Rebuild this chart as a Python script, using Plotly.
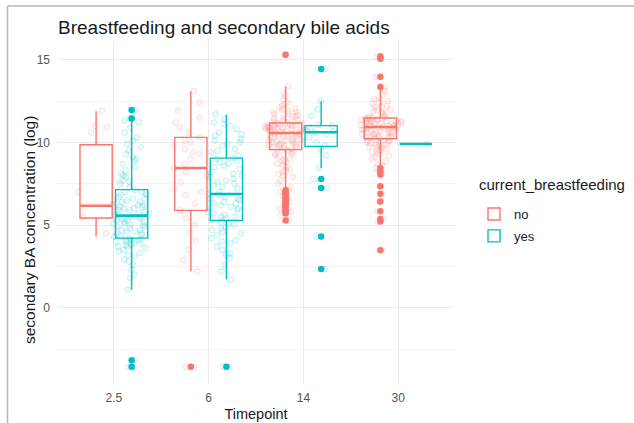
import plotly.graph_objects as go

# ---------------- data ----------------
timepoints = ["2.5", "6", "14", "30"]
groups = ["no", "yes"]

# box statistics (per timepoint)
no_q1 = [5.43, 5.89, 9.56, 10.22]
no_median = [6.17, 8.45, 10.57, 10.93]
no_q3 = [9.86, 10.30, 11.17, 11.47]
no_lower = [4.31, 2.20, 7.20, 8.60]
no_upper = [11.88, 13.09, 13.39, 13.20]

yes_q1 = [4.21, 5.28, 9.76, 9.90]
yes_median = [5.57, 6.88, 10.61, 9.90]
yes_q3 = [7.14, 9.05, 11.01, 9.90]
yes_lower = [1.09, 1.73, 8.45, 9.90]
yes_upper = [11.30, 11.68, 12.48, 9.90]

# outliers per timepoint
no_outliers = [
    [],
    [-3.57],
    [15.3, 7.1, 7.0, 6.9, 6.8, 6.7, 6.6, 6.5, 6.4, 6.3, 6.2, 6.1, 6.0, 5.9, 5.8, 5.7, 5.28],
    [15.2, 15.05, 13.96, 13.35, 8.45, 8.25, 8.05, 7.34, 6.90, 6.43, 5.83, 5.37, 5.22, 3.47],
]
yes_outliers = [
    [11.95, 11.45, -3.17, -3.57],
    [-3.57],
    [14.44, 7.79, 7.24, 4.31, 2.34],
    [],
]

# individual (jittered) observations per timepoint
no_points = [
    [11.9, 11.0, 10.9, 10.6, 7.0, 6.2, 5.5, 4.5],
    [2.2, 2.9, 3.5, 4.1, 4.6, 5.0, 5.4, 5.9, 6.3, 6.8, 7.2, 7.6, 8.0, 8.2, 8.45, 8.7,
     9.0, 9.3, 9.6, 9.8, 10.0, 10.3, 10.6, 10.9, 11.2, 11.5, 11.9, 12.4, 13.1, 7.0,
     9.4, 10.1, -3.6, -3.57],
    [5.28, 5.6, 5.8, 6.0, 6.2, 6.4, 6.6, 6.8, 7.0, 7.1, 7.3, 7.5, 7.7, 7.9, 8.0, 8.2,
     8.3, 8.5, 8.6, 8.7, 8.8, 8.9, 9.0, 9.1, 9.2, 9.3, 9.4, 9.5, 9.5, 6.5, 7.2, 8.1,
     8.4, 9.0, 9.3,
     9.6, 9.65, 9.7, 9.75, 9.8, 9.85, 9.9, 9.95, 10.0, 10.05, 10.1, 10.15, 10.2, 10.25,
     10.3, 10.35, 10.4, 10.45, 10.5, 10.55, 9.7, 9.9, 10.1, 10.3, 10.5, 9.6, 9.8, 10.0,
     10.2, 10.4,
     10.6, 10.62, 10.65, 10.7, 10.72, 10.75, 10.8, 10.82, 10.85, 10.9, 10.92, 10.95,
     11.0, 11.02, 11.05, 11.1, 11.12, 11.15, 10.6, 10.7, 10.8, 10.9, 11.0, 11.1, 10.65,
     10.75, 10.85, 10.95, 11.05, 11.15,
     11.2, 11.3, 11.4, 11.5, 11.6, 11.7, 11.8, 11.9, 12.0, 12.1, 12.2, 12.4, 12.6, 12.8,
     13.0, 13.4, 11.25, 11.45, 11.65, 11.85, 12.05, 12.3, 11.35, 11.55, 11.75, 15.3],
    [3.47, 5.22, 5.37, 5.83, 6.43, 6.90, 7.34, 8.05, 8.25, 8.45, 8.6, 8.7, 8.85, 9.0,
     9.1, 9.2, 9.3, 9.4, 9.5, 9.6, 9.7, 9.75, 9.8, 9.85, 9.9, 9.95, 10.0, 10.05, 10.1,
     10.15, 10.2, 9.45, 9.65, 9.9, 10.1,
     10.25, 10.3, 10.35, 10.4, 10.45, 10.5, 10.55, 10.6, 10.65, 10.7, 10.75, 10.8,
     10.85, 10.9, 10.3, 10.4, 10.5, 10.6, 10.7, 10.8, 10.9, 10.35, 10.55, 10.75, 10.85,
     10.95, 11.0, 11.05, 11.1, 11.15, 11.2, 11.25, 11.3, 11.35, 11.4, 11.45, 11.0, 11.1,
     11.2, 11.3, 11.4, 10.95, 11.05, 11.15, 11.25, 11.35, 11.45, 11.0, 11.2, 11.4,
     11.5, 11.6, 11.7, 11.8, 11.9, 12.0, 12.1, 12.2, 12.35, 12.5, 12.7, 12.9, 13.1,
     13.35, 11.55, 11.75, 11.95, 12.15, 12.4, 12.6, 13.96, 15.05, 15.2],
]
yes_points = [
    [1.1, 1.8, 2.3, 2.6, 2.9, 3.1, 3.3, 3.4, 3.5, 3.6, 3.7, 3.7, 3.8, 3.8, 3.9, 3.9,
     4.0, 4.0, 4.1, 4.1, 4.1, 4.2, 2.0, 2.8, 3.2,
     4.3, 4.3, 4.4, 4.5, 4.5, 4.6, 4.7, 4.7, 4.8, 4.9, 4.9, 5.0, 5.0, 5.1, 5.1, 5.2,
     5.2, 5.3, 5.3, 5.4, 5.4, 5.5, 5.5, 5.6, 4.6,
     5.7, 5.7, 5.8, 5.8, 5.9, 6.0, 6.0, 6.1, 6.2, 6.2, 6.3, 6.4, 6.4, 6.5, 6.6, 6.6,
     6.7, 6.8, 6.8, 6.9, 7.0, 7.0, 7.1, 6.1, 5.9,
     7.3, 7.5, 7.7, 7.9, 8.1, 8.3, 8.5, 8.7, 8.9, 9.1, 9.3, 9.5, 9.7, 9.9, 10.1, 10.3,
     10.6, 10.9, 11.2, 11.3, 11.45, 11.95, 7.6, 8.0, 9.0, -3.17, -3.57, -3.6],
    [1.7, 2.2, 2.6, 3.0, 3.3, 3.5, 3.7, 3.9, 4.1, 4.2, 4.4, 4.5, 4.6, 4.7, 4.8, 4.9,
     5.0, 5.1, 5.2, 5.3, 3.2, 4.0,
     5.4, 5.5, 5.6, 5.7, 5.8, 5.9, 6.0, 6.1, 6.2, 6.3, 6.4, 6.5, 6.6, 6.7, 6.8, 6.9,
     5.5, 6.0, 6.3, 6.6,
     7.0, 7.2, 7.3, 7.5, 7.6, 7.8, 7.9, 8.1, 8.2, 8.4, 8.5, 8.7, 8.8, 8.9, 9.0, 7.4,
     8.0, 8.6, 9.05, 7.7,
     9.2, 9.4, 9.6, 9.8, 10.0, 10.2, 10.4, 10.6, 10.8, 11.0, 11.2, 11.4, 11.7, 9.5,
     10.1, 10.5, 11.1, 9.9, -3.57, -3.6],
    [2.34, 4.31, 7.24, 7.79, 8.45, 9.2, 9.6, 9.8, 10.0, 10.3, 10.5, 10.6, 10.65, 10.8,
     10.9, 11.0, 11.05, 11.6, 12.0, 12.48, 14.44],
    [9.90],
]

# ---------------- styling ----------------
colors = {"no": "#F8766D", "yes": "#00BFC4"}
faint = {"no": "rgba(248,118,109,0.08)", "yes": "rgba(0,191,196,0.08)"}
faint_line = {"no": "rgba(248,118,109,0.17)", "yes": "rgba(0,191,196,0.17)"}
dodge = {"no": -0.1875, "yes": 0.1875}
box_w = 0.34
font_family = "Liberation Sans, Arial, sans-serif"

W, H = 634, 423
ML, MR, MT, MB = 57, 179, 39, 40
PW, PH = W - ML - MR, H - MT - MB


def px_x(px):
    return (px - ML) / PW


def px_y(py):
    return (H - MB - py) / PH


stats = {
    "no": (no_q1, no_median, no_q3, no_lower, no_upper, no_outliers, no_points),
    "yes": (yes_q1, yes_median, yes_q3, yes_lower, yes_upper, yes_outliers, yes_points),
}

fig = go.Figure()

# jittered observations (drawn first, underneath)
for g in groups:
    pts = stats[g][6]
    for i, vals in enumerate(pts):
        pos = i + 1 + dodge[g]
        fig.add_trace(go.Box(
            y=vals, x=[pos] * len(vals), width=0.44,
            boxpoints="all", jitter=1, pointpos=0,
            line=dict(width=0, color="rgba(0,0,0,0)"),
            fillcolor="rgba(0,0,0,0)",
            marker=dict(color=faint[g], size=6, line=dict(color=faint_line[g], width=1)),
            whiskerwidth=0, showlegend=False, hoverinfo="skip",
        ))

# boxes from the summary statistics
for g in groups:
    q1, med, q3, lo, hi, outs, _ = stats[g]
    positions = [i + 1 + dodge[g] for i in range(len(timepoints))]
    fig.add_trace(go.Box(
        x=positions, q1=q1, median=med, q3=q3, lowerfence=lo, upperfence=hi,
        width=box_w, boxpoints=False, whiskerwidth=0,
        line=dict(color=colors[g], width=1.4),
        fillcolor="rgba(0,0,0,0)",
        name=g, legendgroup=g, showlegend=True,
    ))
    # thicker median line
    fig.add_trace(go.Box(
        x=positions, q1=med, median=med, q3=med, lowerfence=med, upperfence=med,
        width=box_w, boxpoints=False, whiskerwidth=0,
        line=dict(color=colors[g], width=2.6),
        fillcolor="rgba(0,0,0,0)",
        name=g, legendgroup=g, showlegend=False, hoverinfo="skip",
    ))
    # outliers
    ox, oy = [], []
    for i, vals in enumerate(outs):
        ox += [i + 1 + dodge[g]] * len(vals)
        oy += vals
    fig.add_trace(go.Scatter(
        x=ox, y=oy, mode="markers",
        marker=dict(color=colors[g], size=6.5),
        legendgroup=g, showlegend=False, hoverinfo="skip",
    ))

# light frame of the original screenshot
frame = dict(color="#B5B5B5", width=1.5)
fig.add_shape(type="line", xref="paper", yref="paper",
              x0=px_x(7.5), x1=px_x(640), y0=px_y(6), y1=px_y(6), line=frame)
fig.add_shape(type="line", xref="paper", yref="paper",
              x0=px_x(7.5), x1=px_x(7.5), y0=px_y(6), y1=px_y(430), line=frame)

# y-axis title and legend title as annotations (positioned like the original)
fig.add_annotation(text="secondary BA concentration (log)", textangle=-90,
                   xref="paper", yref="paper", x=px_x(29), y=px_y(230),
                   xanchor="center", yanchor="middle", showarrow=False,
                   font=dict(size=15.5, color="#1a1a1a"))
fig.add_annotation(text="current_breastfeeding",
                   xref="paper", yref="paper", x=px_x(477), y=px_y(184),
                   xanchor="left", yanchor="middle", showarrow=False,
                   font=dict(size=15, color="#1a1a1a"))

fig.update_layout(
    width=W, height=H,
    margin=dict(l=ML, r=MR, t=MT, b=MB, autoexpand=False),
    paper_bgcolor="white", plot_bgcolor="white",
    font=dict(family=font_family, color="#1a1a1a"),
    boxmode="overlay",
    title=dict(text="Breastfeeding and secondary bile acids",
               x=58 / W, xanchor="left", xref="container",
               y=1 - 27 / H, yanchor="middle", yref="container",
               font=dict(size=19, color="#1a1a1a")),
    xaxis=dict(
        range=[0.4, 4.6], tickmode="array",
        tickvals=[1, 2, 3, 4], ticktext=timepoints,
        showgrid=True, gridcolor="#EBEBEB", gridwidth=1,
        zeroline=False, ticks="", showline=False,
        automargin=False, ticklabelstandoff=6,
        tickfont=dict(size=12, color="#555555"),
        title=dict(text="Timepoint", font=dict(size=14.5, color="#1a1a1a"), standoff=4),
    ),
    yaxis=dict(
        range=[-4.55, 16.25], tick0=0, dtick=5,
        showgrid=True, gridcolor="#EBEBEB", gridwidth=1,
        minor=dict(dtick=2.5, showgrid=True, gridcolor="#F3F3F3", gridwidth=0.8),
        zeroline=False, ticks="", showline=False,
        automargin=False, ticklabelstandoff=6,
        tickfont=dict(size=12, color="#555555"),
    ),
    legend=dict(
        x=px_x(474), xanchor="left", y=px_y(199), yanchor="top",
        font=dict(size=13, color="#1a1a1a"),
        tracegroupgap=2,
        bgcolor="rgba(0,0,0,0)",
    ),
)

fig.write_html("out.html")
